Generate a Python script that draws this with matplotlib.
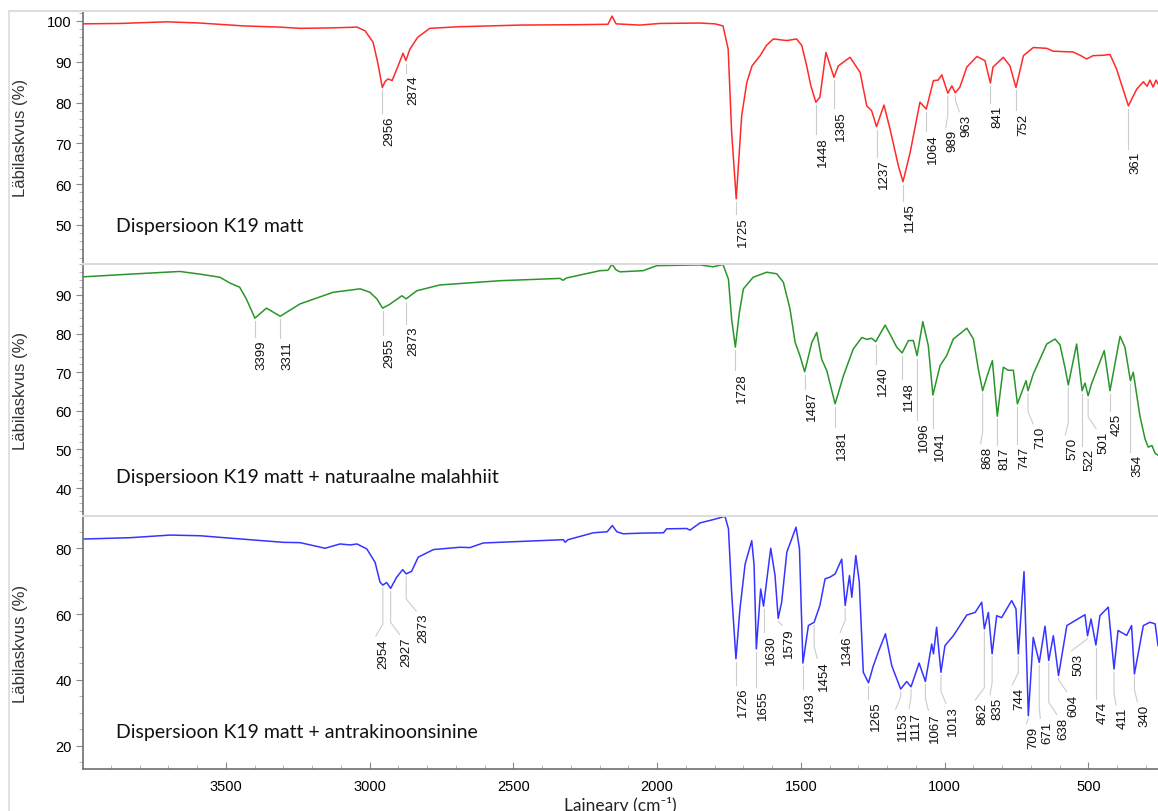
import numpy as np
import matplotlib
matplotlib.use("Agg")
import matplotlib.pyplot as plt
from matplotlib.ticker import MultipleLocator
from matplotlib.lines import Line2D

plt.rcParams['font.family'] = ['Liberation Sans', 'DejaVu Sans']

# ---- spectra: wavenumber (cm-1) and transmittance (%) ----
w_red = [3997, 3868, 3705, 3590, 3440, 3312, 3242, 3138, 3044, 3016, 2988, 2971, 2956, 2946,
         2936, 2922, 2901, 2884, 2874, 2860, 2833, 2791, 2686, 2477, 2268, 2171, 2157, 2143,
         2060, 1990, 1851, 1799, 1771, 1753, 1741, 1725, 1706, 1688, 1670, 1642, 1620, 1596,
         1549, 1515, 1497, 1480, 1465, 1448, 1434, 1413, 1385, 1370, 1329, 1294, 1271, 1254,
         1237, 1211, 1190, 1161, 1145, 1120, 1086, 1064, 1039, 1023, 1010, 989, 975, 963, 947,
         923, 888, 860, 841, 832, 796, 773, 752, 726, 692, 645, 623, 553, 529, 506, 484, 448,
         425, 402, 361, 332, 309, 296, 286, 275, 265, 258]
t_red = [99.3, 99.4, 99.8, 99.5, 98.8, 98.5, 98.2, 98.3, 98.5, 97.6, 94.8, 89.5, 83.7, 85.2,
         85.8, 85.4, 89.0, 92.1, 90.3, 93.1, 96.0, 98.2, 98.6, 99.0, 99.1, 99.2, 101.2, 99.3,
         99.0, 99.4, 99.5, 99.3, 98.8, 93.1, 72.8, 56.4, 76.8, 85.0, 89.0, 91.5, 94.0, 95.6,
         95.2, 95.6, 94.0, 89.0, 84.0, 80.1, 81.3, 92.3, 86.2, 89.0, 91.1, 87.4, 79.2, 78.0,
         74.1, 79.4, 73.5, 64.5, 60.6, 67.8, 80.1, 78.4, 85.4, 85.5, 86.8, 82.3, 84.1, 82.4,
         83.8, 88.7, 91.3, 90.3, 84.8, 88.7, 91.1, 89.0, 83.7, 91.5, 93.5, 93.3, 92.6, 92.4,
         91.6, 90.7, 91.5, 91.6, 91.8, 88.2, 79.2, 83.3, 85.1, 84.0, 85.5, 83.8, 85.5, 84.6]

w_green = [3997, 3834, 3660, 3590, 3521, 3486, 3452, 3429, 3399, 3359, 3311, 3242, 3127, 3033,
           2999, 2975, 2955, 2932, 2888, 2873, 2836, 2756, 2547, 2338, 2327, 2316, 2199, 2171,
           2157, 2143, 2129, 2049, 2001, 1851, 1806, 1771, 1752, 1741, 1728, 1714, 1700, 1666,
           1619, 1584, 1561, 1538, 1520, 1503, 1487, 1462, 1445, 1428, 1410, 1381, 1352, 1318,
           1288, 1271, 1254, 1240, 1207, 1184, 1167, 1148, 1126, 1109, 1096, 1076, 1057, 1041,
           1016, 993, 970, 941, 923, 900, 883, 868, 852, 834, 817, 796, 779, 761, 747, 732, 717,
           710, 692, 645, 616, 599, 581, 570, 541, 522, 512, 501, 489, 445, 425, 390, 373, 354,
           344, 321, 303, 292, 279, 268, 258]
t_green = [94.7, 95.4, 96.1, 95.4, 94.6, 93.1, 92.0, 89.0, 84.0, 86.6, 84.5, 87.7, 90.7, 91.6,
           90.7, 89.0, 86.6, 87.5, 89.8, 89.0, 91.1, 92.6, 93.7, 94.3, 93.8, 94.4, 96.3, 96.4,
           98.0, 96.5, 96.0, 96.3, 97.6, 97.8, 97.3, 97.9, 94.1, 83.8, 76.5, 85.5, 91.6, 94.6,
           95.9, 95.5, 93.3, 86.4, 77.7, 74.2, 70.1, 77.7, 80.3, 73.4, 70.4, 61.8, 69.1, 76.0,
           79.0, 78.5, 78.8, 77.9, 82.2, 79.0, 76.5, 75.0, 78.2, 78.2, 74.3, 83.1, 76.9, 64.1,
           71.7, 74.3, 78.6, 80.3, 81.4, 78.6, 70.8, 65.2, 69.1, 73.0, 58.6, 71.3, 70.5, 70.5,
           61.8, 64.8, 67.8, 65.2, 69.5, 77.3, 78.6, 77.1, 71.0, 66.7, 77.3, 65.2, 67.2, 63.9,
           67.0, 75.6, 65.2, 79.3, 76.5, 67.8, 70.0, 58.7, 52.7, 50.6, 51.0, 49.0, 48.5]

w_blue = [3997, 3834, 3694, 3590, 3475, 3301, 3242, 3155, 3103, 3068, 3044, 3010, 2981, 2964,
          2954, 2941, 2927, 2906, 2885, 2873, 2854, 2831, 2778, 2686, 2651, 2605, 2326, 2320,
          2310, 2222, 2174, 2156, 2140, 2118, 2049, 1978, 1967, 1897, 1886, 1851, 1805, 1764,
          1752, 1741, 1726, 1712, 1694, 1671, 1663, 1655, 1640, 1630, 1605, 1590, 1579, 1567,
          1549, 1517, 1505, 1493, 1474, 1454, 1434, 1416, 1399, 1381, 1358, 1346, 1331, 1323,
          1309, 1297, 1283, 1265, 1248, 1231, 1206, 1184, 1153, 1132, 1117, 1089, 1067, 1045,
          1039, 1028, 1013, 999, 970, 923, 894, 871, 862, 848, 835, 819, 802, 767, 752, 744,
          724, 709, 692, 671, 651, 638, 622, 604, 575, 512, 503, 491, 474, 460, 431, 411, 397,
          367, 350, 340, 309, 286, 268, 258]
t_blue = [82.8, 83.2, 84.0, 83.8, 83.0, 81.8, 81.7, 80.0, 81.3, 81.0, 81.3, 79.8, 75.7, 69.7,
          68.8, 69.6, 67.8, 71.2, 73.5, 72.2, 73.0, 77.3, 79.6, 80.3, 80.2, 81.6, 82.6, 81.8,
          82.6, 84.7, 85.0, 86.9, 85.0, 84.4, 84.6, 84.7, 85.9, 86.0, 85.5, 87.7, 88.7, 89.7,
          85.9, 66.6, 46.4, 61.6, 75.2, 82.3, 75.0, 49.4, 67.6, 62.4, 80.0, 71.7, 58.7, 63.6,
          78.8, 86.4, 79.8, 45.1, 56.5, 57.5, 62.6, 70.7, 71.2, 72.2, 76.7, 62.6, 71.7, 65.1,
          77.8, 69.7, 42.3, 39.1, 44.3, 48.4, 54.0, 44.3, 37.2, 39.5, 37.9, 45.1, 39.5, 50.9,
          47.9, 56.0, 42.3, 50.4, 53.4, 59.7, 60.5, 63.6, 55.5, 60.5, 47.9, 59.5, 58.9, 64.1,
          61.6, 47.9, 72.9, 29.1, 52.9, 45.3, 56.3, 45.9, 53.4, 41.3, 56.5, 59.8, 53.4, 58.5,
          50.6, 59.5, 62.1, 43.3, 55.0, 53.5, 56.5, 41.8, 56.5, 57.5, 57.0, 50.4]

peaks_red = [2956, 2874, 1725, 1448, 1385, 1237, 1145, 1064, 989, 963, 841, 752, 361]
peaks_green = [3399, 3311, 2955, 2873, 1728, 1487, 1381, 1240, 1148, 1096, 1041, 868, 817,
               747, 710, 570, 522, 501, 425, 354]
peaks_blue = [2954, 2927, 2873, 1726, 1655, 1630, 1579, 1493, 1454, 1346, 1265, 1153, 1117,
              1067, 1013, 862, 835, 744, 709, 671, 638, 604, 503, 474, 411, 340]

names = ['Dispersioon K19 matt',
         'Dispersioon K19 matt + naturaalne malahhiit',
         'Dispersioon K19 matt + antrakinoonsinine']

# label layout: (drop below the peak to top of text, sideways bend of the leader) in pixels
lay_red = {2956: (28, 0), 2874: (14, 0), 1725: (17, 0), 1448: (34, 0), 1385: (33, 0),
           1237: (32, 0), 1145: (21, 0), 1064: (24, 0), 989: (36, -2), 963: (21, 4),
           841: (22, 0), 752: (25, 0), 361: (45, 0)}
lay_green = {3399: (21, 0), 3311: (24, 0), 2955: (29, 0), 2873: (27, 0), 1728: (25, 0),
             1487: (19, 0), 1381: (25, 0), 1240: (24, 0), 1148: (28, 0), 1096: (66, 0),
             1041: (35, 0), 868: (55, -2), 817: (31, 0), 747: (42, 0), 710: (35, 5),
             570: (52, -3), 522: (57, 0), 501: (35, 8), 425: (22, 0), 354: (73, 0)}
lay_blue = {2954: (53, -7), 2927: (48, 9), 2873: (39, 10), 1726: (28, 0), 1655: (40, 0),
            1630: (28, 0), 1579: (9, 4), 1493: (28, 0), 1454: (38, 3), 1346: (29, -5),
            1265: (18, 0), 1153: (22, -5), 1117: (24, -2), 1067: (31, 3), 1013: (33, 5),
            862: (73, -9), 835: (43, -2), 744: (33, -6), 709: (10, -2), 671: (58, 1),
            638: (56, 8), 604: (18, 8), 503: (17, -16), 474: (56, 0), 411: (38, 2),
            340: (30, 3)}

W, H = 1158, 812
fig = plt.figure(figsize=(W / 100, H / 100), dpi=100)

# panel boxes in pixels (top, bottom)
boxes = [(12, 264.5), (264.5, 517), (517, 770)]
x0 = 83
ylims = [(40.56, 102.45), (32.75, 98.16), (12.9, 89.8)]
majors = [(10, 2), (10, 2), (20, 5)]
colors = ['#ff2a2a', '#2a962a', '#3535ff']
series = [(w_red, t_red, peaks_red, lay_red),
          (w_green, t_green, peaks_green, lay_green),
          (w_blue, t_blue, peaks_blue, lay_blue)]
name_base = [232, 483, 738]

axes = []
for i, (top, bot) in enumerate(boxes):
    ax = fig.add_axes([x0 / W, 1 - bot / H, (W - x0) / W, (bot - top) / H],
                      sharex=axes[0] if axes else None)
    axes.append(ax)
    w, t, peaks, lay = series[i]
    ax.plot(w, t, color=colors[i], lw=1.1)
    ax.set_xlim(3997, 258)
    ax.set_ylim(*ylims[i])
    ax.yaxis.set_major_locator(MultipleLocator(majors[i][0]))
    ax.yaxis.set_minor_locator(MultipleLocator(majors[i][1]))
    ax.tick_params(axis='y', which='major', direction='out', length=5, width=0.8,
                   color='#888888', labelsize=10.5, pad=3)
    ax.tick_params(axis='y', which='minor', direction='out', length=3, width=0.6,
                   color='#aaaaaa')
    ax.spines['right'].set_visible(False)
    ax.spines['top'].set_color('#dcdcdc')
    ax.spines['top'].set_linewidth(1.5)
    ax.spines['left'].set_color('#707070')
    ax.spines['left'].set_linewidth(1.2)
    if i < 2:
        ax.spines['bottom'].set_visible(False)
        ax.tick_params(axis='x', which='both', bottom=False, labelbottom=False)
    else:
        ax.spines['bottom'].set_color('#707070')
        ax.spines['bottom'].set_linewidth(1.2)
    ax.set_ylabel('Läbilaskvus (%)', fontsize=12, color='#333333')
    ax.yaxis.set_label_coords((28 - x0) / (W - x0), 0.5)
    ax.text((116 - x0) / (W - x0), (bot - name_base[i]) / (bot - top), names[i],
            transform=ax.transAxes, family=['Lato', 'DejaVu Sans'], fontsize=14,
            va='baseline', ha='left', color='#111111')

axes[2].xaxis.set_major_locator(MultipleLocator(500))
axes[2].xaxis.set_minor_locator(MultipleLocator(100))
axes[2].tick_params(axis='x', which='major', direction='in', length=5, width=0.8,
                    color='#888888', labelsize=10.5, pad=7)
axes[2].tick_params(axis='x', which='minor', direction='in', length=3, width=0.6,
                    color='#aaaaaa')

# peak labels with thin grey leader lines (drawn in pixel offsets)
for i, ax in enumerate(axes):
    w, t, peaks, lay = series[i]
    to_px = ax.transData
    to_data = ax.transData.inverted()
    for p in peaks:
        tp = np.interp(p, w[::-1], t[::-1])
        px, py = to_px.transform((p, tp))
        drop, dx = lay[p]
        y_start = py - 3
        y_end = py - drop + 2
        if dx:
            y_bend = min(y_start, y_end + 12)
            pts = [(px, y_start), (px, y_bend), (px + dx, y_end)]
        else:
            pts = [(px, y_start), (px, y_end)]
        pts = to_data.transform(pts)
        ax.plot(pts[:, 0], pts[:, 1], color='#cccccc', lw=0.8, clip_on=False, zorder=1)
        tx, ty = to_data.transform((px + dx + 7, py - drop))
        ax.text(tx, ty, str(p), rotation=90, ha='center', va='top', fontsize=9.5,
                color='#111111', clip_on=False)

fig.text(620 / W, (H - 810) / H, 'Lainearv (cm⁻¹)', family=['Lato', 'DejaVu Sans'],
         fontsize=12.5, ha='center', va='baseline', color='#222222')

# outer frame of the original window
fig.add_artist(Line2D([9 / W, 9 / W], [0, 1 - 12 / H], color='#dcdcdc', lw=1.2))
fig.add_artist(Line2D([9 / W, x0 / W], [1 - 12 / H, 1 - 12 / H], color='#dcdcdc', lw=1.5))

fig.savefig('out.png', dpi=100)
